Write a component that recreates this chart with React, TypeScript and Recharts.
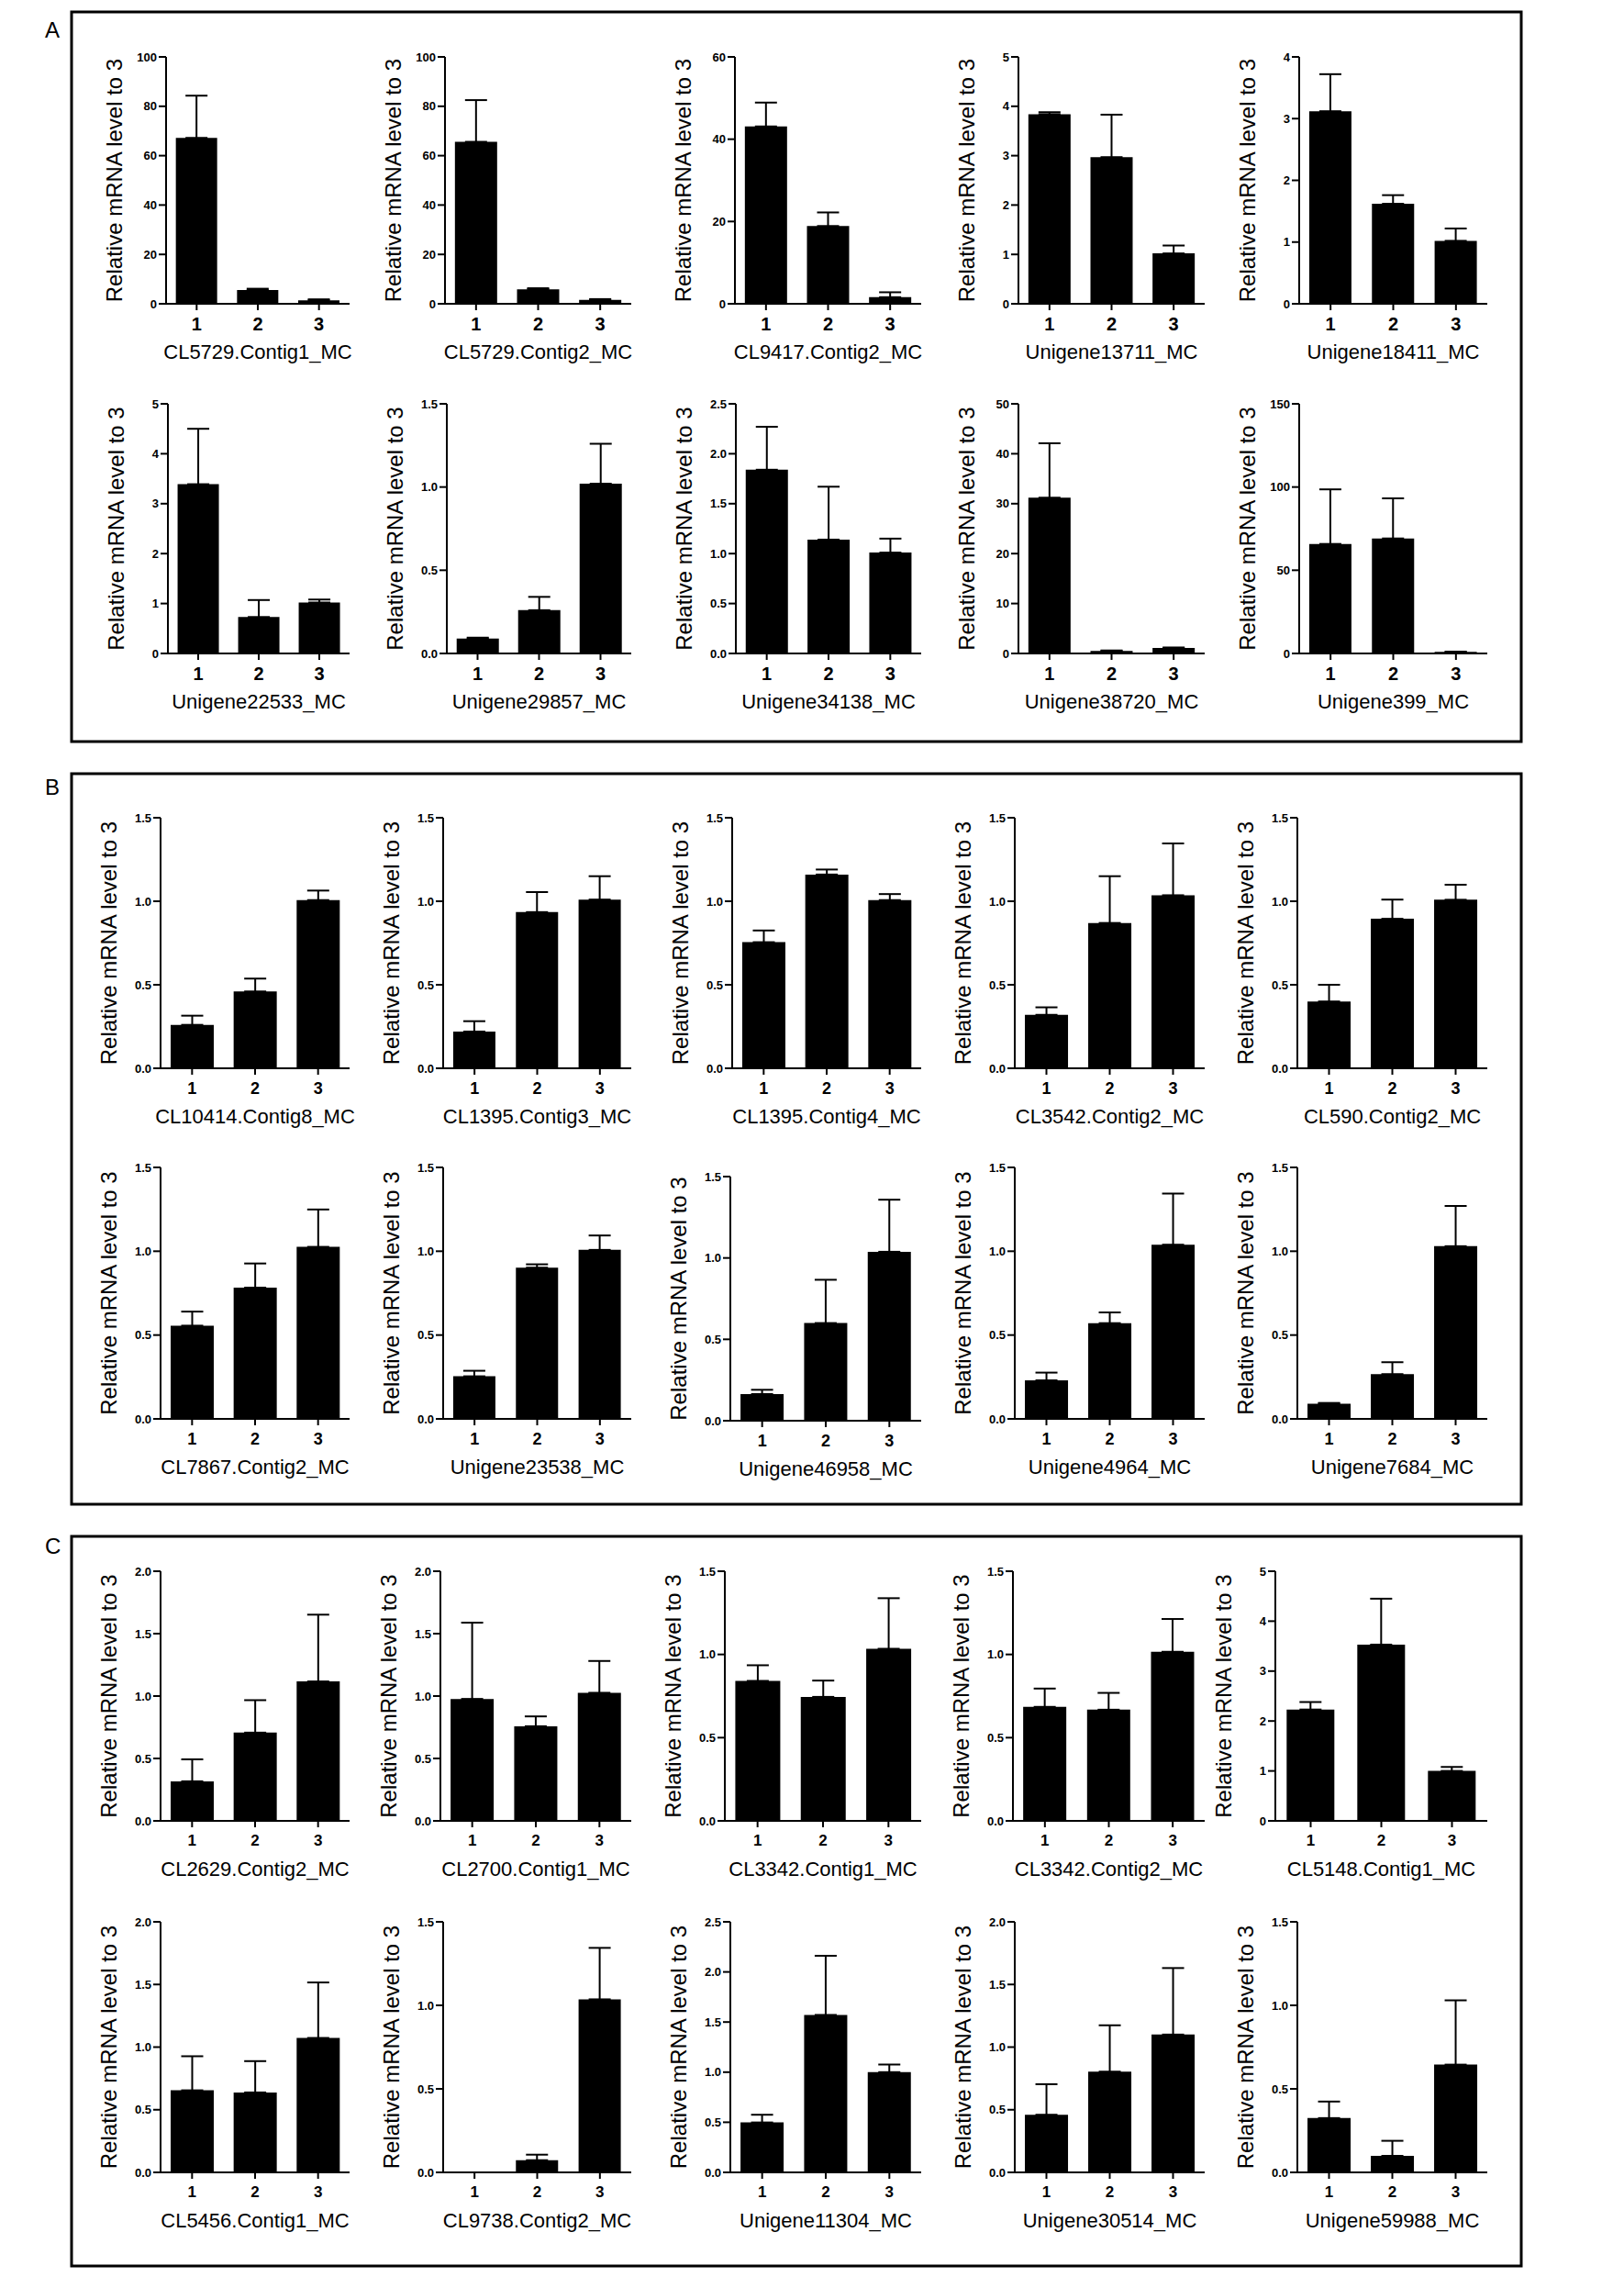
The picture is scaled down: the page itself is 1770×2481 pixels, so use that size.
import React from 'react';
import { BarChart, Bar, XAxis, YAxis, ErrorBar } from 'recharts';

// ---------------- DATA ----------------
const categories = ['1', '2', '3'];

const genesA = [
  'CL5729.Contig1_MC', 'CL5729.Contig2_MC', 'CL9417.Contig2_MC', 'Unigene13711_MC', 'Unigene18411_MC',
  'Unigene22533_MC', 'Unigene29857_MC', 'Unigene34138_MC', 'Unigene38720_MC', 'Unigene399_MC',
];
const meansA = [
  [67.2, 5.6, 1.4], [65.6, 5.9, 1.6], [43.1, 18.9, 1.6], [3.84, 2.97, 1.02], [3.12, 1.62, 1.02],
  [3.39, 0.73, 1.02], [0.09, 0.26, 1.02], [1.84, 1.14, 1.01], [31.2, 0.5, 1.1], [65.8, 69.1, 0.9],
];
const sdsA = [
  [17.1, 0.5, 0.4], [16.9, 0.4, 0.3], [5.8, 3.3, 1.2], [0.04, 0.86, 0.16], [0.6, 0.14, 0.2],
  [1.11, 0.34, 0.06], [0.005, 0.08, 0.24], [0.43, 0.53, 0.14], [10.9, 0.1, 0.1], [32.8, 24.1, 0.2],
];
const ticksA = [
  [0, 20, 40, 60, 80, 100], [0, 20, 40, 60, 80, 100], [0, 20, 40, 60], [0, 1, 2, 3, 4, 5], [0, 1, 2, 3, 4],
  [0, 1, 2, 3, 4, 5], [0, 0.5, 1, 1.5], [0, 0.5, 1, 1.5, 2, 2.5], [0, 10, 20, 30, 40, 50], [0, 50, 100, 150],
];

const genesB = [
  'CL10414.Contig8_MC', 'CL1395.Contig3_MC', 'CL1395.Contig4_MC', 'CL3542.Contig2_MC', 'CL590.Contig2_MC',
  'CL7867.Contig2_MC', 'Unigene23538_MC', 'Unigene46958_MC', 'Unigene4964_MC', 'Unigene7684_MC',
];
const meansB = [
  [0.26, 0.46, 1.007], [0.22, 0.935, 1.01], [0.755, 1.16, 1.007], [0.32, 0.87, 1.036], [0.4, 0.895, 1.009],
  [0.556, 0.783, 1.026], [0.254, 0.902, 1.008], [0.164, 0.6, 1.038], [0.23, 0.571, 1.039], [0.091, 0.267, 1.03],
];
const sdsB = [
  [0.055, 0.077, 0.057], [0.062, 0.12, 0.14], [0.07, 0.03, 0.036], [0.045, 0.28, 0.31], [0.1, 0.115, 0.09],
  [0.084, 0.144, 0.223], [0.033, 0.02, 0.086], [0.026, 0.266, 0.32], [0.046, 0.064, 0.305], [0.004, 0.071, 0.24],
];
const ticksB = [
  [0, 0.5, 1, 1.5], [0, 0.5, 1, 1.5], [0, 0.5, 1, 1.5], [0, 0.5, 1, 1.5], [0, 0.5, 1, 1.5],
  [0, 0.5, 1, 1.5], [0, 0.5, 1, 1.5], [0, 0.5, 1, 1.5], [0, 0.5, 1, 1.5], [0, 0.5, 1, 1.5],
];

const genesC = [
  'CL2629.Contig2_MC', 'CL2700.Contig1_MC', 'CL3342.Contig1_MC', 'CL3342.Contig2_MC', 'CL5148.Contig1_MC',
  'CL5456.Contig1_MC', 'CL9738.Contig2_MC', 'Unigene11304_MC', 'Unigene30514_MC', 'Unigene59988_MC',
];
const meansC = [
  [0.317, 0.707, 1.117], [0.977, 0.758, 1.026], [0.841, 0.745, 1.034], [0.685, 0.668, 1.016], [2.23, 3.53, 1.0],
  [0.655, 0.638, 1.073], [0.0, 0.073, 1.036], [0.498, 1.571, 1.0], [0.46, 0.804, 1.1], [0.325, 0.099, 0.645],
];
const sdsC = [
  [0.176, 0.26, 0.535], [0.611, 0.079, 0.255], [0.094, 0.098, 0.304], [0.11, 0.101, 0.197], [0.15, 0.92, 0.08],
  [0.272, 0.25, 0.443], [0, 0.033, 0.308], [0.077, 0.59, 0.076], [0.244, 0.37, 0.531], [0.099, 0.09, 0.385],
];
const ticksC = [
  [0, 0.5, 1, 1.5, 2], [0, 0.5, 1, 1.5, 2], [0, 0.5, 1, 1.5], [0, 0.5, 1, 1.5], [0, 1, 2, 3, 4, 5],
  [0, 0.5, 1, 1.5, 2], [0, 0.5, 1, 1.5], [0, 0.5, 1, 1.5, 2, 2.5], [0, 0.5, 1, 1.5, 2], [0, 0.5, 1, 1.5],
];

const panelLabels = ['A', 'B', 'C'];
const yTitle = 'Relative mRNA level to 3';

// ---------------- LAYOUT ----------------
const FONT = "'Liberation Sans', Arial, Helvetica, sans-serif";
const YW = 80;
const MT = 10;
const XH = 80;
const RM = 8;

// per grid row (A1, A2, B1, B2, C1, C2)
const PLOT_TOP = [
  [62, 62, 62, 62, 62],
  [440, 440, 440, 440, 440],
  [891, 891, 891, 891, 891],
  [1272, 1272, 1282, 1272, 1272],
  [1712, 1712, 1712, 1712, 1712],
  [2094, 2094, 2094, 2094, 2094],
];
const PLOT_ZERO = [
  [331, 331, 331, 331, 331],
  [712, 712, 712, 712, 712],
  [1164, 1164, 1164, 1164, 1164],
  [1546, 1546, 1548, 1546, 1546],
  [1984, 1984, 1984, 1984, 1984],
  [2367, 2367, 2367, 2367, 2367],
];
const AXIS_X = [
  [181, 485, 801, 1110, 1416],
  [183, 487, 802, 1110, 1416],
  [175, 483, 798, 1106, 1414],
  [175, 483, 796, 1106, 1414],
  [175, 480, 790, 1104, 1390],
  [175, 483, 796, 1106, 1414],
];
const COL_RIGHT = [381, 688, 1004, 1313, 1621];
const PANEL_BOX = [
  { x: 78, y: 13, w: 1580, h: 795 },
  { x: 78, y: 843, w: 1580, h: 796 },
  { x: 78, y: 1674, w: 1580, h: 795 },
];
const PANEL_LABEL_POS = [
  { x: 49, y: 41 },
  { x: 49, y: 866 },
  { x: 49, y: 1693 },
];
const XTICK_FONT = [20, 18, 17];

// ---------------- COMPONENTS ----------------
const YTitleLabel = (props: any) => {
  const { px, py } = props;
  return (
    <text
      x={px}
      y={py}
      transform={`rotate(-90 ${px} ${py})`}
      textAnchor="middle"
      dominantBaseline="central"
      fontSize={24}
      fontFamily={FONT}
      fill="#000"
    >
      {yTitle}
    </text>
  );
};

const GeneLabel = (props: any) => {
  const { px, py, text } = props;
  return (
    <text x={px} y={py} textAnchor="middle" fontSize={22} fontFamily={FONT} fill="#000">
      {text}
    </text>
  );
};

type MiniProps = {
  gene: string;
  means: number[];
  sds: number[];
  ticks: number[];
  axisX: number;
  right: number;
  top: number;
  zero: number;
  xFont: number;
};

const MiniChart = ({ gene, means, sds, ticks, axisX, right, top, zero, xFont }: MiniProps) => {
  const data = categories.map((c, i) => ({ cat: c, v: means[i], e: [0, sds[i]] }));
  const plotW = right - axisX;
  const plotH = zero - top;
  const width = YW + plotW + RM;
  const height = MT + plotH + XH;
  const dec = ticks.some((t) => !Number.isInteger(t)) ? 1 : 0;
  return (
    <div style={{ position: 'absolute', left: axisX - YW, top: top - MT }}>
      <BarChart
        width={width}
        height={height}
        data={data}
        margin={{ top: MT, right: RM, left: 0, bottom: 0 }}
        barCategoryGap="16%"
      >
        <XAxis
          dataKey="cat"
          height={XH}
          interval={0}
          axisLine={{ stroke: '#000', strokeWidth: 2 }}
          tickLine={{ stroke: '#000', strokeWidth: 2 }}
          tickSize={7}
          tickMargin={8}
          tick={{ fill: '#000', fontSize: xFont, fontWeight: 'bold', fontFamily: FONT }}
          label={<GeneLabel px={YW + plotW / 2} py={MT + plotH + 60} text={gene} />}
        />
        <YAxis
          width={YW}
          type="number"
          domain={[0, ticks[ticks.length - 1]]}
          ticks={ticks}
          interval={0}
          allowDataOverflow
          tickFormatter={(v: number) => v.toFixed(dec)}
          axisLine={{ stroke: '#000', strokeWidth: 2 }}
          tickLine={{ stroke: '#000', strokeWidth: 2 }}
          tickSize={8}
          tickMargin={2}
          tick={{ fill: '#000', fontSize: 13, fontWeight: 'bold', fontFamily: FONT }}
          label={<YTitleLabel px={YW - 57} py={MT + plotH / 2} />}
        />
        <Bar dataKey="v" fill="#000" isAnimationActive={false}>
          <ErrorBar dataKey="e" width={12} stroke="#000" strokeWidth={2} direction="y" isAnimationActive={false} />
        </Bar>
      </BarChart>
    </div>
  );
};

const panels = [
  { genes: genesA, means: meansA, sds: sdsA, ticks: ticksA },
  { genes: genesB, means: meansB, sds: sdsB, ticks: ticksB },
  { genes: genesC, means: meansC, sds: sdsC, ticks: ticksC },
];

export default function App() {
  const charts: React.ReactNode[] = [];
  panels.forEach((p, pi) => {
    p.genes.forEach((g, gi) => {
      const row = pi * 2 + Math.floor(gi / 5);
      const col = gi % 5;
      charts.push(
        <MiniChart
          key={`${pi}-${gi}`}
          gene={g}
          means={p.means[gi]}
          sds={p.sds[gi]}
          ticks={p.ticks[gi]}
          axisX={AXIS_X[row][col]}
          right={COL_RIGHT[col]}
          top={PLOT_TOP[row][col]}
          zero={PLOT_ZERO[row][col]}
          xFont={XTICK_FONT[pi]}
        />
      );
    });
  });

  return (
    <div style={{ position: 'absolute', left: 0, top: 0, width: 1770, height: 2481, background: '#fff' }}>
      <svg width={1770} height={2481} style={{ position: 'absolute', left: 0, top: 0 }}>
        {PANEL_BOX.map((b, i) => (
          <rect key={`box-${i}`} x={b.x} y={b.y} width={b.w} height={b.h} fill="none" stroke="#000" strokeWidth={3} />
        ))}
        {panelLabels.map((l, i) => (
          <text key={`pl-${i}`} x={PANEL_LABEL_POS[i].x} y={PANEL_LABEL_POS[i].y} fontSize={24} fontFamily={FONT} fill="#000">
            {l}
          </text>
        ))}
      </svg>
      {charts}
    </div>
  );
}
